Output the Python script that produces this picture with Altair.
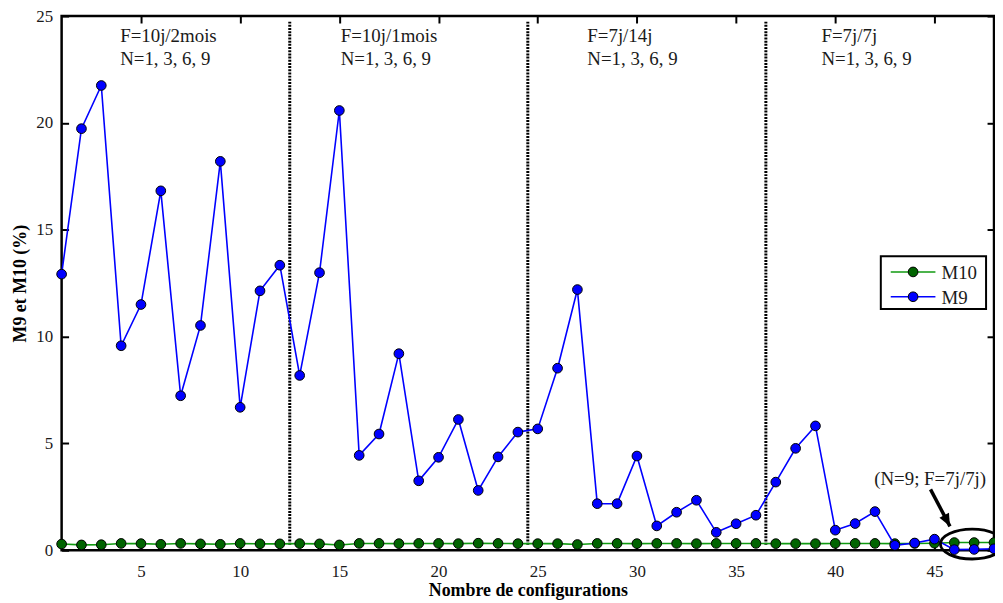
import altair as alt
import pandas as pd

# ---------------- data ----------------
config_x = list(range(1, 49))
m9 = [12.92, 19.73, 21.75, 9.57, 11.5, 16.82, 7.23, 10.52, 18.2, 6.69, 12.14, 13.34,
      8.18, 12.99, 20.58, 4.44, 5.44, 9.2, 3.25, 4.35, 6.12, 2.8, 4.37, 5.53,
      5.68, 8.52, 12.2, 2.18, 2.18, 4.41, 1.14, 1.78, 2.34, 0.84, 1.24, 1.64,
      3.19, 4.77, 5.82, 0.94, 1.25, 1.81, 0.23, 0.34, 0.52, 0.03, 0.04, 0.07]
m10 = [0.29, 0.25, 0.26, 0.32, 0.31, 0.28, 0.32, 0.30, 0.28, 0.32, 0.30, 0.30,
       0.31, 0.30, 0.25, 0.32, 0.32, 0.31, 0.32, 0.32, 0.31, 0.33, 0.32, 0.31,
       0.31, 0.31, 0.27, 0.32, 0.32, 0.31, 0.32, 0.32, 0.31, 0.32, 0.32, 0.32,
       0.31, 0.31, 0.31, 0.32, 0.32, 0.32, 0.31, 0.32, 0.33, 0.36, 0.36, 0.36]
series_names = ["M10", "M9"]
series_line_colors = ["#109a10", "#0000ff"]
series_fill_colors = ["#006400", "#0000ff"]

x_ticks = [5, 10, 15, 20, 25, 30, 35, 40, 45]
y_ticks = [0, 5, 10, 15, 20, 25]

sep_x = [12.5, 24.5, 36.5]
sep_y_bottom = 0.26
sep_y_top = 24.73

group_labels = ["F=10j/2mois", "F=10j/1mois", "F=7j/14j", "F=7j/7j"]
group_label_x = [3.95, 15.07, 27.5, 39.3]
group_sub = "N=1, 3, 6, 9"
group_line1_y = 23.77
group_line2_y = 22.72

note_text = "(N=9; F=7j/7j)"
note_x, note_y = 44.78, 3.05
arrow_x, arrow_y, arrow_x2, arrow_y2 = 44.8, 2.85, 45.78, 1.12
ellipse_x, ellipse_y = 46.9, 0.29

FONT = "Liberation Serif"

# ---------------- frames ----------------
df10 = pd.DataFrame({"x": config_x, "v": m10})
df9 = pd.DataFrame({"x": config_x, "v": m9})
sep_df = pd.DataFrame({"x": sep_x, "y0": [sep_y_bottom] * len(sep_x), "y1": [sep_y_top] * len(sep_x)})
grp_df = pd.DataFrame({"x": group_label_x, "l1": group_labels, "l2": [group_sub] * len(group_labels),
                       "y1": [group_line1_y] * 4, "y2": [group_line2_y] * 4})
note_df = pd.DataFrame({"x": [note_x], "y": [note_y], "t": [note_text]})
arrow_df = pd.DataFrame({"x": [arrow_x], "y": [arrow_y], "x2": [arrow_x2], "y2": [arrow_y2]})
ell_df = pd.DataFrame({"x": [ellipse_x], "y": [ellipse_y]})
one = pd.DataFrame({"a": [0]})

xs = alt.Scale(domain=[1, 48], nice=False, zero=False)
ys = alt.Scale(domain=[0, 25], nice=False, zero=False)

bottom_axis = alt.Axis(orient="bottom", values=x_ticks, offset=-7, tickSize=7, domain=False, grid=False,
                       labelPadding=13, titleY=53, titleBaseline="alphabetic")
left_axis = alt.Axis(orient="left", values=y_ticks, offset=-7, tickSize=7, domain=False, grid=False,
                     labelPadding=9, titleX=-48, titleY=269, titleBaseline="middle")
top_axis = alt.Axis(orient="top", values=x_ticks, offset=-7, tickSize=7, domain=False, grid=False,
                    labels=False)
right_axis = alt.Axis(orient="right", values=y_ticks, offset=-7, tickSize=7, domain=False, grid=False,
                      labels=False)

Xn = alt.X("x:Q", scale=xs, axis=None)
Yn = alt.Y("y:Q", scale=ys, axis=None)

vlines = alt.Chart(sep_df).mark_rule(color="black", strokeWidth=3, strokeDash=[2, 1.2]).encode(
    x=Xn, y=alt.Y("y0:Q", scale=ys, axis=None), y2="y1:Q")

m10_line = alt.Chart(df10).mark_line(color=series_line_colors[0], strokeWidth=1.6).encode(
    x=alt.X("x:Q", scale=xs, axis=top_axis, title=None),
    y=alt.Y("v:Q", scale=ys, axis=right_axis, title=None))
m10_pts = alt.Chart(df10).mark_circle(size=95, fill=series_fill_colors[0], stroke="black",
                                      strokeWidth=1, opacity=1).encode(
    x=Xn, y=alt.Y("v:Q", scale=ys, axis=None))
m9_line = alt.Chart(df9).mark_line(color=series_line_colors[1], strokeWidth=1.6).encode(
    x=alt.X("x:Q", scale=xs, axis=bottom_axis, title="Nombre de configurations"),
    y=alt.Y("v:Q", scale=ys, axis=left_axis, title="M9 et M10 (%)"))
m9_pts = alt.Chart(df9).mark_circle(size=95, fill=series_fill_colors[1], stroke="black",
                                    strokeWidth=1, opacity=1).encode(
    x=Xn, y=alt.Y("v:Q", scale=ys, axis=None))

txt_kw = dict(font=FONT, fontSize=19, color="#1a1a1a", baseline="alphabetic")
g1 = alt.Chart(grp_df).mark_text(align="left", **txt_kw).encode(
    x=Xn, y=alt.Y("y1:Q", scale=ys, axis=None), text="l1:N")
g2 = alt.Chart(grp_df).mark_text(align="left", **txt_kw).encode(
    x=Xn, y=alt.Y("y2:Q", scale=ys, axis=None), text="l2:N")
note = alt.Chart(note_df).mark_text(align="center", **txt_kw).encode(x=Xn, y=Yn, text="t:N")

arrow = alt.Chart(arrow_df).mark_rule(color="black", strokeWidth=3.5).encode(
    x=Xn, y=Yn, x2="x2:Q", y2="y2:Q")
arrow_head = alt.Chart(arrow_df).mark_point(
    shape="M 0 0 L -0.6 -1.4 L 0.6 -1.4 Z", filled=True, color="black", size=324,
    angle=332.6, opacity=1).encode(
    x=alt.X("x2:Q", scale=xs, axis=None), y=alt.Y("y2:Q", scale=ys, axis=None))
ellipse = alt.Chart(ell_df).mark_point(
    shape="M -1 0 A 1 0.47 0 1 1 1 0 A 1 0.47 0 1 1 -1 0", filled=False, stroke="black",
    strokeWidth=2.8, size=4096, opacity=1).encode(x=Xn, y=Yn)

# manual legend
legend_layers = [alt.Chart(one).mark_rect(fill="white", stroke="black", strokeWidth=2).encode(
    x=alt.value(825), x2=alt.value(931), y=alt.value(242), y2=alt.value(295))]
leg_rows = [257.7, 282.7]
for name, lc, fc, yy in zip(series_names, series_line_colors, series_fill_colors, leg_rows):
    legend_layers.append(alt.Chart(one).mark_rule(color=lc, strokeWidth=1.6).encode(
        x=alt.value(835), x2=alt.value(880), y=alt.value(yy)))
    legend_layers.append(alt.Chart(one).mark_circle(size=95, fill=fc, stroke="black", strokeWidth=1,
                                                    opacity=1).encode(
        x=alt.value(857.5), y=alt.value(yy)))
    legend_layers.append(alt.Chart(one).mark_text(align="left", baseline="middle", font=FONT,
                                                  fontSize=19, color="#1a1a1a", text=name).encode(
        x=alt.value(886), y=alt.value(yy + 1)))

chart = alt.layer(
    vlines, m10_line, m10_pts, m9_line, m9_pts, g1, g2, note, arrow, arrow_head, ellipse,
    *legend_layers
).resolve_axis(x="independent", y="independent").properties(
    width=939, height=538,
    padding={"left": 54, "top": 6, "right": 1, "bottom": 50},
    autosize=alt.AutoSizeParams(type="none"),
    background="white",
).configure_view(stroke="black", strokeWidth=2.5).configure_axis(
    labelFont=FONT, labelFontSize=17, labelColor="#1a1a1a", tickColor="black", tickWidth=2,
    titleFont=FONT, titleFontSize=18, titleFontWeight="bold", titleColor="black")

chart.save("out.html", embed_options={"renderer": "svg", "actions": False})
